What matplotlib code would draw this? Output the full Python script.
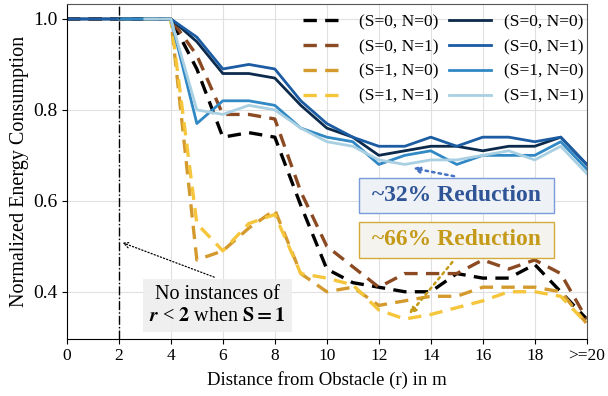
import matplotlib.pyplot as plt
import numpy as np

plt.rcParams['font.family'] = ['Liberation Serif', 'DejaVu Serif']
plt.rcParams['mathtext.fontset'] = 'stix'

nan = np.nan
r = list(range(21))
xtick_labels = ['0', '2', '4', '6', '8', '10', '12', '14', '16', '18', '>=20']

# dashed series
d_s0n0 = [1, 1, 1, 1, 1, 0.89, 0.74, 0.75, 0.74, 0.59, 0.45, 0.42, 0.41, 0.40, 0.40, 0.44, 0.43, 0.43, 0.46, 0.40, 0.34]
d_s0n1 = [1, 1, 1, 1, 1, 0.92, 0.79, 0.79, 0.78, 0.62, 0.50, 0.455, 0.41, 0.44, 0.44, 0.44, 0.47, 0.45, 0.47, 0.44, 0.34]
d_s1n0 = [nan, nan, 1, 1, 1, 0.47, 0.49, 0.54, 0.58, 0.44, 0.40, 0.41, 0.37, 0.38, 0.39, 0.39, 0.41, 0.41, 0.41, 0.40, 0.33]
d_s1n1 = [nan, nan, nan, 1, 1, 0.55, 0.49, 0.55, 0.57, 0.44, 0.43, 0.415, 0.36, 0.34, 0.35, 0.365, 0.38, 0.40, 0.40, 0.39, 0.33]
# solid series
s_s0n0 = [1, 1, 1, 1, 1, 0.95, 0.88, 0.88, 0.87, 0.81, 0.76, 0.74, 0.70, 0.71, 0.72, 0.72, 0.71, 0.72, 0.72, 0.74, 0.68]
s_s0n1 = [1, 1, 1, 1, 1, 0.96, 0.89, 0.90, 0.89, 0.82, 0.77, 0.74, 0.72, 0.72, 0.74, 0.72, 0.74, 0.74, 0.73, 0.74, 0.68]
s_s1n0 = [nan, nan, 1, 1, 1, 0.77, 0.82, 0.82, 0.81, 0.76, 0.74, 0.73, 0.68, 0.70, 0.71, 0.68, 0.70, 0.70, 0.70, 0.73, 0.67]
s_s1n1 = [nan, nan, nan, 1, 1, 0.80, 0.79, 0.81, 0.80, 0.76, 0.73, 0.72, 0.69, 0.68, 0.69, 0.69, 0.70, 0.71, 0.69, 0.72, 0.66]

labels = ['(S=0, N=0)', '(S=0, N=1)', '(S=1, N=0)', '(S=1, N=1)']
dash_colors = ['#000000', '#8b4a22', '#d49a2e', '#f5c63c']
solid_colors = ['#0c2a4b', '#1b5ca3', '#3088c4', '#a9d0e2']

fig, ax = plt.subplots(figsize=(6.08, 3.96), dpi=100)
fig.subplots_adjust(left=0.11, right=0.965, bottom=0.145, top=0.99)

for ys, c, lab in zip([d_s0n0, d_s0n1, d_s1n0, d_s1n1], dash_colors, labels):
    ax.plot(r, ys, color=c, lw=2.4, ls=(0, (4, 2.5)), label=lab)
for ys, c, lab in zip([s_s0n0, s_s0n1, s_s1n0, s_s1n1], solid_colors, labels):
    ax.plot(r, ys, color=c, lw=2, label=lab)

ax.axvline(2, color='black', lw=1, ls='-.')

ax.set_xlim(0, 20)
ax.set_ylim(0.297, 1.033)
ax.set_xticks(range(0, 21, 2))
ax.set_xticklabels(xtick_labels)
ax.set_yticks([0.4, 0.6, 0.8, 1.0])
ax.tick_params(axis='x', labelsize=12.5)
ax.tick_params(axis='y', labelsize=14)
ax.grid(True, color='#e0e0e0', lw=0.8)
ax.set_axisbelow(True)
for side in ['top', 'right']:
    ax.spines[side].set_color('#555555')

ax.set_xlabel('Distance from Obstacle (r) in m', fontsize=13.5, labelpad=5)
ax.set_ylabel('Normalized Energy Consumption', fontsize=14.5, labelpad=3)

ax.legend(ncol=2, loc='upper right', bbox_to_anchor=(1.0, 0.978), frameon=False,
          fontsize=12.5, handlelength=2.4, columnspacing=0.6, labelspacing=0.5,
          borderaxespad=0.0, borderpad=0.15)

# annotation: no instances
ax.text(5.8, 0.37, 'No instances of\n' + r'$\boldsymbol{r}$ < $\mathbf{2}$ when $\mathbf{S{=}1}$',
        ha='center', va='center', fontsize=14.5, linespacing=1.25,
        bbox=dict(boxstyle='square,pad=0.3', fc='#eeeeee', ec='none', alpha=0.9))
ax.annotate('', xy=(2.04, 0.51), xytext=(5.77, 0.43),
            arrowprops=dict(arrowstyle='->', color='black', lw=0.9, ls=':'))

# reduction boxes
ax.text(15.0, 0.611, ' ~32% Reduction ', ha='center', va='center', fontsize=17,
        fontweight='bold', color='#2f5597',
        bbox=dict(boxstyle='square,pad=0.3', fc='#eef2f7', ec='#7a9ad8', lw=1))
ax.annotate('', xy=(13.2, 0.673), xytext=(15.0, 0.653),
            arrowprops=dict(arrowstyle='-|>', color='#4472c4', lw=1.8, ls=':'))

ax.text(15.0, 0.514, ' ~66% Reduction ', ha='center', va='center', fontsize=17,
        fontweight='bold', color='#c49a18',
        bbox=dict(boxstyle='square,pad=0.3', fc='#f5f3ee', ec='#d4aa3a', lw=1))
ax.annotate('', xy=(13.1, 0.345), xytext=(14.9, 0.47),
            arrowprops=dict(arrowstyle='-|>', color='#c49a18', lw=1.8, ls=':'))

fig.savefig('out.png', dpi=100)
